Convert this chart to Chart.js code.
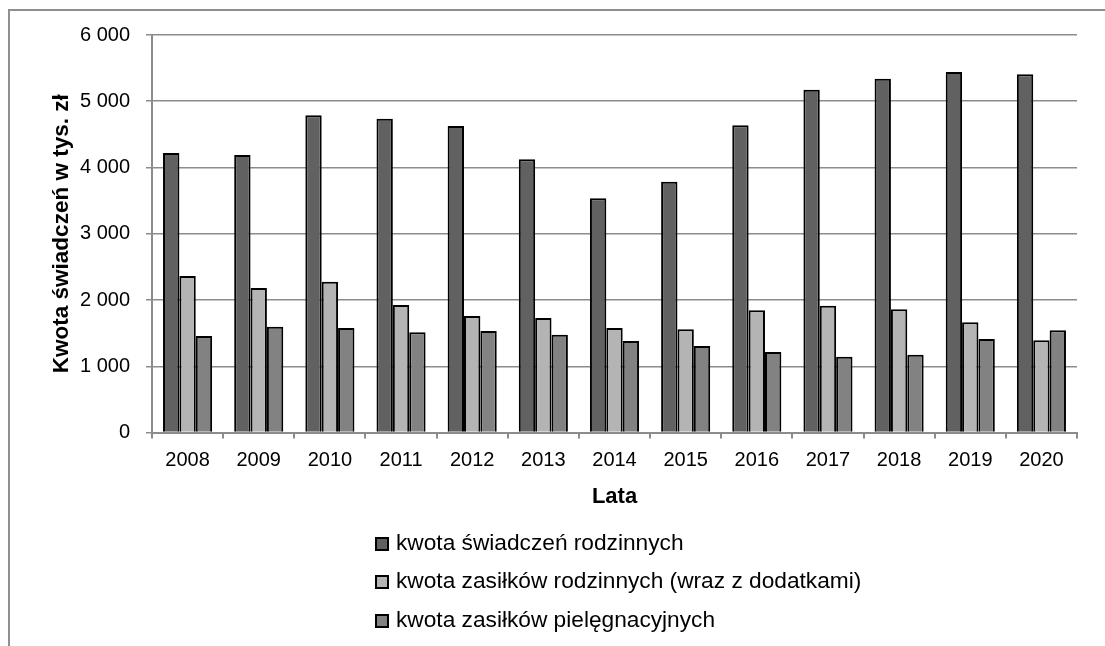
<!DOCTYPE html>
<html lang="pl">
<head>
<meta charset="utf-8">
<title>Kwota świadczeń</title>
<script src="https://cdn.jsdelivr.net/npm/chart.js@4/dist/chart.umd.min.js"></script>
<style>
    html, body {
        margin: 0;
        padding: 0;
        background: #fff;
        overflow: hidden;
    }
    #ramka {
        position: absolute;
        left: 8px;
        top: 9px;
        width: 1200px;
        height: 800px;
        border-left: 2px solid #8f8f8f;
        border-top: 2px solid #8f8f8f;
    }
    #wykres {
        position: absolute;
        left: 0;
        top: 0;
    }
    #legenda {
        position: absolute;
        left: 375px;
        top: 523px;
        font-family: "Liberation Sans", Arial, sans-serif;
        font-size: 22.7px;
        color: #000;
    }
    .pozycja {
        height: 38.3px;
        line-height: 38px;
        white-space: nowrap;
    }
    .kwadrat {
        display: inline-block;
        width: 10px;
        height: 10px;
        border: 2px solid #000;
        margin-right: 7px;
        vertical-align: -1px;
    }
</style>
</head>
<body>

<div id="ramka"></div>
<canvas id="wykres" width="1105" height="646"></canvas>
<div id="legenda"></div>

<script>
// dane (tys. zł)
const lata = ["2008", "2009", "2010", "2011", "2012", "2013", "2014",
              "2015", "2016", "2017", "2018", "2019", "2020"];

const swiadczeniaRodzinne = [4219, 4189, 4788, 4737, 4626, 4124, 3535,
                             3786, 4637, 5174, 5340, 5442, 5407];

const zasilkiRodzinne = [2362, 2181, 2276, 1925, 1758, 1728, 1577,
                         1558, 1845, 1914, 1860, 1663, 1392];

const zasilkiPielegnacyjne = [1457, 1597, 1577, 1512, 1532, 1476, 1381,
                              1306, 1215, 1144, 1174, 1411, 1543];

const nazwySerii = [
    "kwota świadczeń rodzinnych",
    "kwota zasiłków rodzinnych (wraz z dodatkami)",
    "kwota zasiłków pielęgnacyjnych"
];

const kolory = ["#616161", "#b4b4b4", "#828282"];

const czcionka = "'Liberation Sans', Arial, sans-serif";
const szaryOs = "#8c8c8c";

function formatTysiace(v) {
    return String(v).replace(/\B(?=(\d{3})+(?!\d))/g, " ");
}

const wykres = new Chart(
    document.getElementById("wykres"),
    {
        type: "bar",
        data: {
            labels: lata,
            datasets: [
                {
                    label: nazwySerii[0],
                    data: swiadczeniaRodzinne,
                    backgroundColor: kolory[0]
                },
                {
                    label: nazwySerii[1],
                    data: zasilkiRodzinne,
                    backgroundColor: kolory[1]
                },
                {
                    label: nazwySerii[2],
                    data: zasilkiPielegnacyjne,
                    backgroundColor: kolory[2]
                }
            ]
        },
        options: {
            responsive: false,
            animation: false,
            layout: {
                padding: { left: 0, top: 35, right: 28, bottom: 135.5 }
            },
            datasets: {
                bar: {
                    borderColor: "#000",
                    borderWidth: 2,
                    categoryPercentage: 0.69,
                    barPercentage: 1.0
                }
            },
            plugins: {
                legend: { display: false },
                tooltip: { enabled: false }
            },
            scales: {
                x: {
                    grid: {
                        drawOnChartArea: false,
                        drawTicks: true,
                        tickLength: 6,
                        color: szaryOs,
                        lineWidth: 2
                    },
                    border: { color: szaryOs, width: 2 },
                    ticks: {
                        color: "#000",
                        padding: 10,
                        font: { family: czcionka, size: 20 }
                    },
                    title: {
                        display: true,
                        text: "Lata",
                        color: "#000",
                        padding: { top: 0, bottom: 0 },
                        font: { family: czcionka, size: 22, weight: "bold" }
                    },
                    afterFit: function (skala) {
                        skala.height = 78;
                    }
                },
                y: {
                    min: 0,
                    max: 6000,
                    ticks: {
                        stepSize: 1000,
                        color: "#000",
                        padding: 16,
                        font: { family: czcionka, size: 20 },
                        callback: function (v) {
                            return formatTysiace(v);
                        }
                    },
                    grid: {
                        color: szaryOs,
                        lineWidth: 1.5,
                        tickLength: 6
                    },
                    border: { color: szaryOs, width: 2 },
                    title: {
                        display: true,
                        text: "Kwota świadczeń w tys. zł",
                        color: "#000",
                        padding: { top: 48, bottom: 0 },
                        font: { family: czcionka, size: 22.5, weight: "bold" }
                    },
                    afterFit: function (skala) {
                        skala.width = 152;
                    }
                }
            }
        }
    }
);

// legenda pionowa pod osią
const legenda = document.getElementById("legenda");
legenda.innerHTML = "";
wykres.data.datasets.forEach(zestaw => {
    legenda.innerHTML += `
        <div class="pozycja">
            <span class="kwadrat" style="background:${zestaw.backgroundColor}"></span>${zestaw.label}
        </div>
    `;
});
</script>
</body>
</html>
